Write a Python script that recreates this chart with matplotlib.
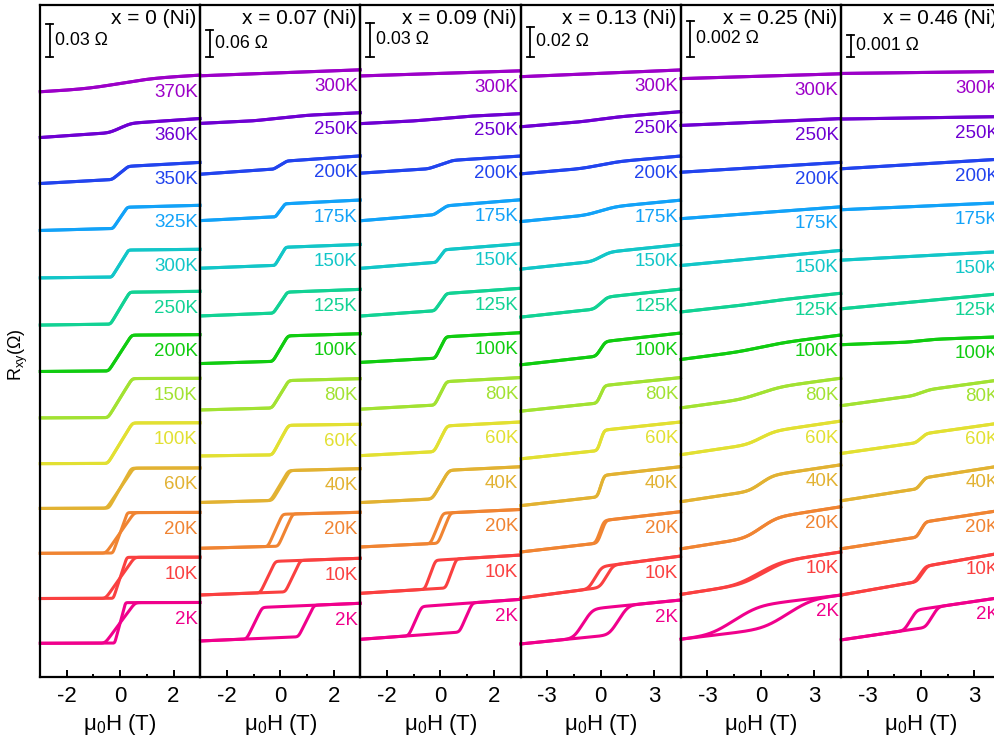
import numpy as np
import matplotlib.pyplot as plt
from matplotlib import transforms
from matplotlib.ticker import MultipleLocator

plt.rcParams['font.family'] = 'Liberation Sans'
plt.rcParams['mathtext.fontset'] = 'custom'
plt.rcParams['mathtext.rm'] = 'Liberation Sans'
plt.rcParams['mathtext.it'] = 'Liberation Sans:italic'
plt.rcParams['axes.unicode_minus'] = False

# paneles: composicion x y escala vertical (Ohm)
titles = ['x = 0 (Ni)', 'x = 0.07 (Ni)', 'x = 0.09 (Ni)',
          'x = 0.13 (Ni)', 'x = 0.25 (Ni)', 'x = 0.46 (Ni)']
bar_ohm = [0.03, 0.06, 0.03, 0.02, 0.002, 0.001]
bar_txt = ['0.03 \u03a9', '0.06 \u03a9', '0.03 \u03a9',
           '0.02 \u03a9', '0.002 \u03a9', '0.001 \u03a9']
h_max = [3.0, 3.0, 3.0, 4.5, 4.5, 4.5]          # campo maximo (T)
y_top = [0.6105, 1.492, 0.5926, 0.4477, 0.0373, 0.0305]

temps_ni = ['370K', '360K', '350K', '325K', '300K', '250K', '200K',
            '150K', '100K', '60K', '20K', '10K', '2K']
temps = ['300K', '250K', '200K', '175K', '150K', '125K', '100K',
         '80K', '60K', '40K', '20K', '10K', '2K']

colors = ['#9c00c8', '#6e00d2', '#2244ee', '#12a2f8', '#12c6c8',
          '#12d294', '#10cc10', '#a2e232', '#e2e032', '#e2b232',
          '#f08432', '#fa4040', '#f0008c']

# R_xy en -Hmax (r_lo) y +Hmax (r_hi), salto anomalo, campo coercitivo
# y semiancho de la rampa, curva de mayor T primero
r_lo = [
    [0.5316, 0.4900, 0.4482, 0.4055, 0.3624, 0.3195, 0.2773, 0.2351, 0.1935, 0.1528, 0.1120, 0.0709, 0.0302],
    [1.3347, 1.2289, 1.1160, 1.0129, 0.9071, 0.8011, 0.6953, 0.5922, 0.4900, 0.3867, 0.2849, 0.1811, 0.0789],
    [0.5300, 0.4879, 0.4442, 0.4022, 0.3602, 0.3181, 0.2772, 0.2359, 0.1949, 0.1535, 0.1143, 0.0734, 0.0328],
    [0.3999, 0.3665, 0.3351, 0.3033, 0.2716, 0.2396, 0.2078, 0.1769, 0.1451, 0.1139, 0.0830, 0.0523, 0.0217],
    [0.03321, 0.03061, 0.02801, 0.02543, 0.02283, 0.02025, 0.01761, 0.01492, 0.01232, 0.00971, 0.00709, 0.00456, 0.00207],
    [0.02739, 0.02532, 0.02306, 0.02120, 0.01891, 0.01670, 0.01507, 0.01230, 0.01013, 0.00798, 0.00580, 0.00370, 0.00166],
]
r_hi = [
    [0.5468, 0.5073, 0.4674, 0.4284, 0.3884, 0.3502, 0.3108, 0.2711, 0.2307, 0.1896, 0.1492, 0.1085, 0.0673],
    [1.3480, 1.2527, 1.1567, 1.0587, 0.9600, 0.8602, 0.7616, 0.6618, 0.5604, 0.4618, 0.3649, 0.2627, 0.1627],
    [0.5345, 0.4967, 0.4593, 0.4207, 0.3819, 0.3426, 0.3034, 0.2638, 0.2246, 0.1851, 0.1474, 0.1072, 0.0681],
    [0.4044, 0.3766, 0.3470, 0.3176, 0.2880, 0.2583, 0.2290, 0.1993, 0.1697, 0.1399, 0.1099, 0.0803, 0.0510],
    [0.03348, 0.03099, 0.02856, 0.02609, 0.02367, 0.02129, 0.01897, 0.01657, 0.01419, 0.01176, 0.00943, 0.00692, 0.00453],
    [0.02748, 0.02543, 0.02350, 0.02152, 0.01930, 0.01739, 0.01543, 0.01348, 0.01152, 0.00957, 0.00755, 0.00561, 0.00359],
]
r_step = [
    [0.0065, 0.0075, 0.0113, 0.0191, 0.0245, 0.0289, 0.0325, 0.0355, 0.0368, 0.0364, 0.0368, 0.0373, 0.0368],
    [0.0, 0.0067, 0.0160, 0.0280, 0.0396, 0.0458, 0.0560, 0.0604, 0.0656, 0.0658, 0.0711, 0.0689, 0.0689],
    [0.0, 0.0018, 0.0062, 0.0071, 0.0106, 0.0146, 0.0185, 0.0203, 0.0223, 0.0247, 0.0265, 0.0251, 0.0251],
    [0.0, 0.0013, 0.0027, 0.0040, 0.0053, 0.0073, 0.0093, 0.0113, 0.0133, 0.0140, 0.0147, 0.0140, 0.0187],
    [0.0, 0.0, 0.0, 0.0, 0.0, 0.00006, 0.00022, 0.00044, 0.00056, 0.00072, 0.00094, 0.00100, 0.00139],
    [0.0, 0.0, 0.0, 0.0, 0.0, 0.0, 0.00009, 0.00018, 0.00036, 0.00045, 0.00064, 0.00064, 0.00086],
]
h_c = [
    [0.0] * 13,
    [0.0, 0.0, 0.0, 0.0, 0.0, 0.0, 0.0, 0.0, 0.0, 0.03, 0.19, 0.47, 0.97],
    [0.0, 0.0, 0.0, 0.0, 0.0, 0.0, 0.0, 0.0, 0.0, 0.0, 0.14, 0.39, 0.95],
    [0.0, 0.0, 0.0, 0.0, 0.0, 0.0, 0.0, 0.0, 0.0, 0.0, 0.05, 0.32, 1.00],
    [0.0, 0.0, 0.0, 0.0, 0.0, 0.0, 0.0, 0.0, 0.0, 0.0, 0.0, 0.15, 1.50],
    [0.0, 0.0, 0.0, 0.0, 0.0, 0.0, 0.0, 0.0, 0.0, 0.0, 0.0, 0.05, 0.60],
]
h_w = [
    [1.1, 0.40, 0.30, 0.27, 0.31, 0.36, 0.43, 0.45, 0.46, 0.50, 0.53, 0.54, 0.56],
    [1.0, 1.0, 0.25, 0.18, 0.20, 0.26, 0.28, 0.31, 0.30, 0.33, 0.27, 0.28, 0.29],
    [1.0, 1.0, 0.45, 0.25, 0.17, 0.22, 0.20, 0.22, 0.24, 0.31, 0.23, 0.20, 0.24],
    [1.0, 1.0, 1.0, 0.8, 0.5, 0.35, 0.25, 0.20, 0.18, 0.18, 0.22, 0.35, 0.50],
    [1.0, 1.0, 1.0, 1.0, 1.0, 1.0, 1.2, 1.0, 0.7, 0.6, 0.8, 1.1, 1.2],
    [1.0, 1.0, 1.0, 1.0, 1.0, 1.0, 0.8, 0.5, 0.3, 0.25, 0.25, 0.3, 0.35],
]
# Ni puro: la rama de bajada es mas empinada que la de subida
h_w_dn_ni = [1.1, 0.40, 0.30, 0.27, 0.31, 0.36, 0.43, 0.45, 0.46, 0.42, 0.27, 0.25, 0.20]
# que tan marcadas son las esquinas (Ni curva a curva, resto por panel)
sharp_ni = [1.3, 2.0, 3.5, 5.0, 6.0, 6.0, 6.0, 6.0, 6.0, 6.0, 6.0, 6.0, 6.0]
sharp = [6.0, 4.0, 3.0, 1.6, 1.3, 2.0]


def ramp(u, k):
    # escalon suave de 0 a 1 entre u=-1 y u=1
    a = np.logaddexp(k * (u + 1), -k * (u + 1))
    b = np.logaddexp(k * (u - 1), -k * (u - 1))
    return 0.5 + (a - b) / (4 * k)


def branch(h, hm, lo, hi, step, c, w, k):
    bg = (hi - lo - step) / (2 * hm)
    s = ramp((h - c) / w, k) - ramp((-hm - c) / w, k)
    return lo + bg * (h + hm) + step * s


fig = plt.figure(figsize=(9.95, 7.43), dpi=100)
W, H = 995.0, 743.0
ax_w = 160.2
ax_bot, ax_top = 676.5, 5.0

for i in range(6):
    left = 40.0 + ax_w * i
    ax = fig.add_axes([left / W, 1 - ax_bot / H, ax_w / W, (ax_bot - ax_top) / H])
    ax.set_facecolor('none')
    hm = h_max[i]
    ax.set_xlim(-hm, hm)
    ax.set_ylim(0, y_top[i])
    for sp in ax.spines.values():
        sp.set_linewidth(1.6)

    labels = temps_ni if i == 0 else temps
    h = np.linspace(-1.015 * hm, 1.015 * hm, 800)
    for j in range(13):
        w_up = h_w[i][j]
        w_dn = h_w_dn_ni[j] if i == 0 else h_w[i][j]
        k = sharp_ni[j] if i == 0 else sharp[i]
        up = branch(h, hm, r_lo[i][j], r_hi[i][j], r_step[i][j], h_c[i][j], w_up, k)
        dn = branch(h, hm, r_lo[i][j], r_hi[i][j], r_step[i][j], -h_c[i][j], w_dn, k)
        ax.plot(h, up, color=colors[j], lw=2.2, clip_on=False, solid_capstyle='butt')
        ax.plot(h, dn, color=colors[j], lw=2.2, clip_on=False, solid_capstyle='butt')
        ax.annotate(labels[j], xy=(0.985, r_hi[i][j]), xycoords=('axes fraction', 'data'),
                    xytext=(0, -17), textcoords='offset pixels',
                    ha='right', va='center', color=colors[j], fontsize=13.5)

    # barra de escala
    tr = transforms.blended_transform_factory(ax.transAxes, ax.transData)
    y0 = 0.9226 * y_top[i]
    y1 = y0 + bar_ohm[i]
    bx = 0.06
    ax.plot([bx, bx], [y0, y1], transform=tr, color='k', lw=1.3)
    ax.plot([bx - 0.022, bx + 0.022], [y0, y0], transform=tr, color='k', lw=1.3)
    ax.plot([bx - 0.022, bx + 0.022], [y1, y1], transform=tr, color='k', lw=1.3)
    ax.text(bx + 0.035, 0.5 * (y0 + y1), bar_txt[i], transform=tr,
            ha='left', va='center', fontsize=12.8)

    ax.text(0.975, 0.9806, titles[i], transform=ax.transAxes,
            ha='right', va='center', fontsize=15)

    if hm == 3.0:
        ax.set_xticks([-2, 0, 2])
        ax.xaxis.set_minor_locator(MultipleLocator(1))
    else:
        ax.set_xticks([-3, 0, 3])
        ax.xaxis.set_minor_locator(MultipleLocator(1.5))
    ax.set_yticks([])
    ax.tick_params(axis='x', which='major', direction='in', length=5.3, width=1.4,
                   labelsize=16, pad=7)
    ax.tick_params(axis='x', which='minor', direction='in', length=2.5, width=1.4)
    ax.text(0.5, -0.072, '\u03bc$_0$H (T)', transform=ax.transAxes,
            ha='center', va='center', fontsize=16)

fig.text(18 / W, 1 - 355 / H, 'R$_{\\mathrm{xy}}$(\u03a9)', rotation=90,
         ha='center', va='center', fontsize=13)

fig.savefig('out.png', dpi=100)
